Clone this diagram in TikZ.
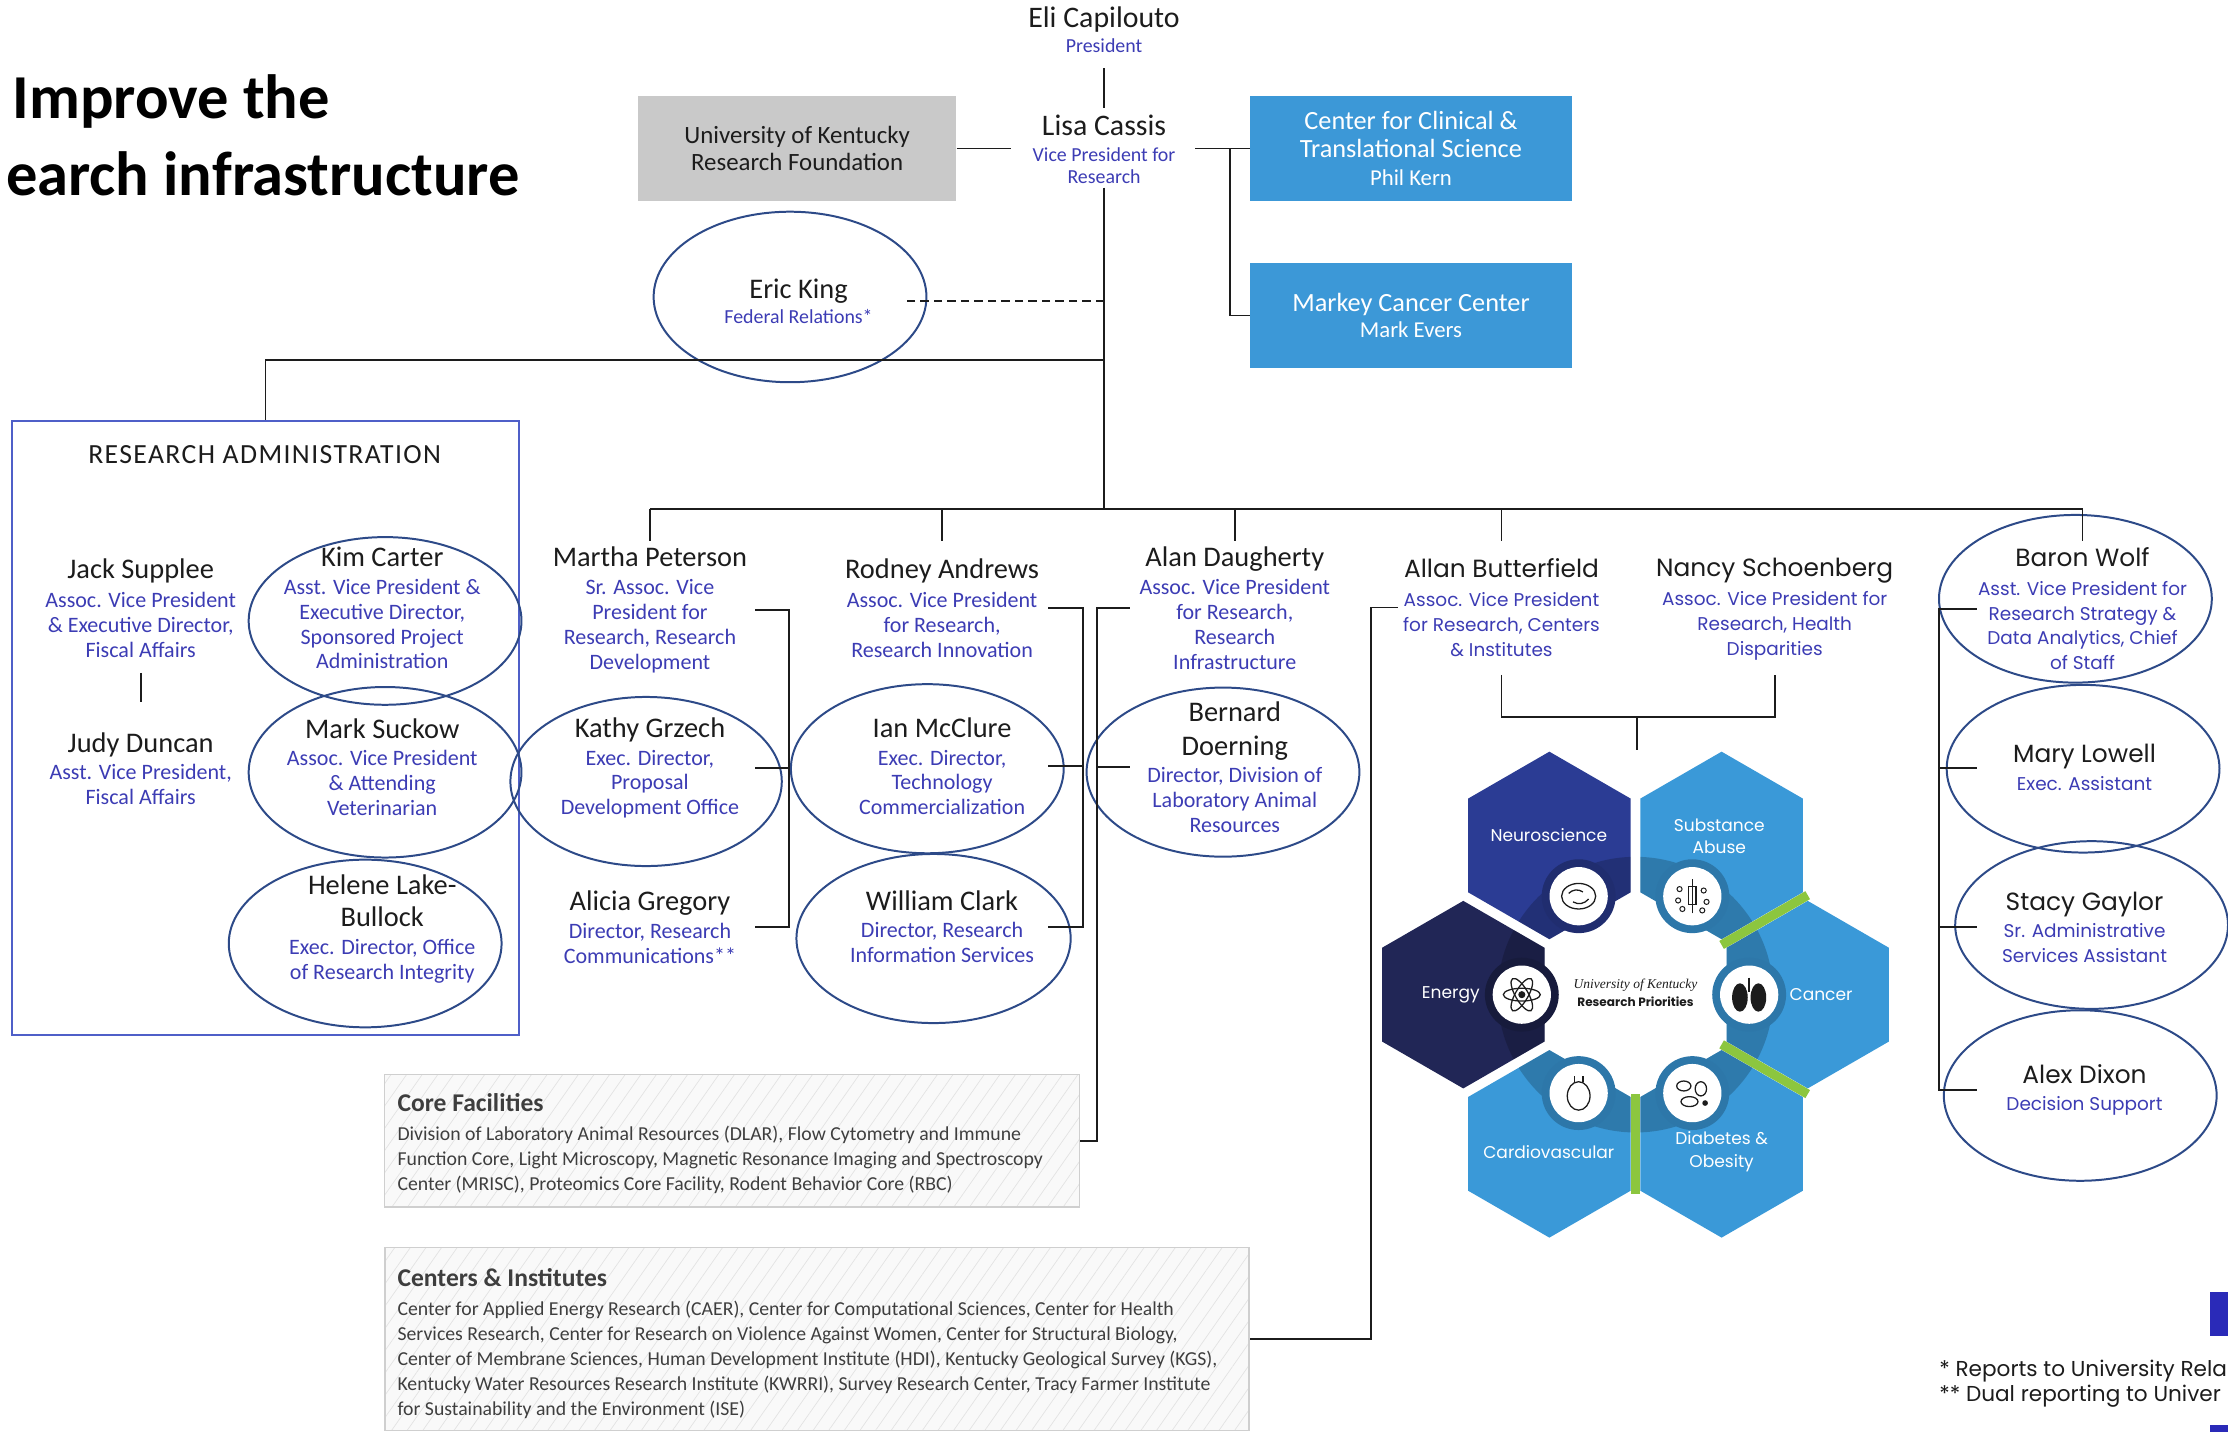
\documentclass[tikz,border=0pt]{standalone}
\usepackage{fontspec}
\setmainfont{Carlito}
\newfontfamily\wide{Poppins}
\newfontfamily\serifit{Liberation Serif}
\usetikzlibrary{shapes.geometric,patterns.meta}

\definecolor{namecol}{HTML}{1C1C1C}
\definecolor{rolecol}{HTML}{3C3CB4}
\definecolor{ringcol}{HTML}{2D4A88}
\definecolor{ukblue}{HTML}{3C98D7}
\definecolor{ukgray}{HTML}{C9C9C9}
\definecolor{raframe}{HTML}{4F5FC8}
\definecolor{hexlight}{HTML}{3A99D8}
\definecolor{hexneuro}{HTML}{2B3C94}
\definecolor{hexenergy}{HTML}{212656}
\definecolor{ukgreen}{HTML}{8CC63F}
\definecolor{boxline}{HTML}{CFCFCF}
\definecolor{footblue}{HTML}{2A2AB8}

\newcommand\nm{\color{namecol}\fontsize{20}{22}\selectfont}
\newcommand\nmw{\color{namecol}\fontsize{17.5}{20}\selectfont}
\newcommand\hexat[2]{(#1,#2) +(30:66) -- +(90:66) -- +(150:66) -- +(210:66) -- +(270:66) -- +(330:66) -- cycle}

\tikzset{
  person/.style={inner sep=0pt, outer sep=0pt, align=center, anchor=north, text=rolecol, font=\fontsize{15.5}{17.5}\selectfont},
  personw/.style={person, font=\wide\fontsize{13}{17.5}\selectfont},
  vp/.style={person, font=\fontsize{14}{15}\selectfont},
  ring/.style={ellipse, draw=ringcol, line width=1.4pt, minimum width=192pt, minimum height=119pt, inner sep=0pt},
  link/.style={line width=1.3pt, draw=namecol},
  unitbox/.style={inner sep=0pt, align=center, minimum width=226pt, minimum height=74pt},
  listbox/.style={draw=boxline, line width=1pt, anchor=north west, inner sep=0pt, preaction={fill=gray!5}, pattern={Lines[angle=55,distance=9pt,line width=.5pt]}, pattern color=gray!22},
  listtext/.style={anchor=north west, inner sep=0pt, align=left, text=namecol!85, font=\fontsize{13.9}{17.6}\selectfont},
  hexlbl/.style={text=white, align=center, inner sep=0pt, font=\wide\fontsize{12}{16}\selectfont},
  icon/.style={draw=namecol, line width=.9pt}
}

\begin{document}
\begin{tikzpicture}[x=1pt,y=-1pt]
\useasboundingbox (0,0) rectangle (1568,1008);

\node[anchor=base west, inner sep=0pt, font=\bfseries\fontsize{44}{48}\selectfont] (title-a) at (8.6,83.7) {Improve the};
\node[anchor=base east, inner sep=0pt, font=\bfseries\fontsize{44}{48}\selectfont] (title-b) at (366,137.7) {earch infrastructure};

% president and vice president
\node[vp] (eli) at (777,4.5) {{\color{namecol}\fontsize{21}{22}\selectfont Eli Capilouto}\\[3pt]President};
\node[vp] (lisa) at (777,81) {{\color{namecol}\fontsize{21}{22}\selectfont Lisa Cassis}\\[3.5pt]Vice President for\\Research};
\node[unitbox, fill=ukgray, text=namecol, font=\fontsize{17.5}{18.8}\selectfont, minimum width=224pt, minimum height=74.5pt] (ukrf) at (561,104.5) {University of Kentucky\\Research Foundation};
\node[unitbox, fill=ukblue, text=white, font=\fontsize{18.5}{19.4}\selectfont, minimum height=74.5pt] (ccts) at (993,104.5) {Center for Clinical \&\\Translational Science\\{\fontsize{16}{19.4}\selectfont Phil Kern}};
\node[unitbox, fill=ukblue, text=white, font=\fontsize{18.5}{18.7}\selectfont] (markey) at (993,222) {Markey Cancer Center\\{\fontsize{16}{18.7}\selectfont Mark Evers}};
\node[vp] (eric) at (562,196) {{\nm Eric King}\\[3pt]Federal Relations*};
\node[ring, minimum height=120pt] (eric-ring) at (556,209) {};

\coordinate (hub) at (777,358);
\coordinate (vpr-r) at (865.5,104.5);
\coordinate (fed-j) at (777,212);
\coordinate (ra-j) at (777,253.5);
\draw[link, shorten <=11pt, shorten >=5pt] (eli) -- (lisa);
\draw[link, shorten <=3pt] (lisa) -- (hub);
\draw[link, shorten >=15pt] (ukrf) -- (ukrf -| lisa.west);
\draw[link, shorten <=14pt] (lisa.east |- ccts) -- (ccts);
\draw[link] (vpr-r) |- (markey.west);
\draw[link, dash pattern=on 6pt off 3.5pt, shorten >=21.5pt] (fed-j) -- (fed-j -| eric.east);

% research administration
\node[draw=raframe, line width=1.2pt, minimum width=356.5pt, minimum height=432pt, anchor=north west, inner sep=0pt] (ra) at (8,295.6) {};
\node[inner sep=0pt, text=namecol, font=\fontsize{19.5}{20}\selectfont\addfontfeature{LetterSpace=5}] (ra-title) at (186.25,320) {RESEARCH ADMINISTRATION};
\draw[link] (ra-j) -| (ra.north);

\node[person] (jack) at (99,393.5) {{\nm Jack Supplee}\\[2.5pt]Assoc. Vice President\\\& Executive Director,\\Fiscal Affairs};
\node[person] (judy) at (99,515.5) {{\nm Judy Duncan}\\[2pt]Asst. Vice President,\\Fiscal Affairs};
\node[person] (kim) at (269,385) {{\nm Kim Carter}\\[2pt]Asst. Vice President \&\\Executive Director,\\Sponsored Project\\Administration};
\node[person] (mark) at (269,505.5) {{\nm Mark Suckow}\\[2pt]Assoc. Vice President\\\& Attending\\Veterinarian};
\node[person] (helene) at (269,615.5) {{\nm Helene Lake-}\\[5pt]{\nm Bullock}\\[2.5pt]Exec. Director, Office\\of Research Integrity};
\node[ring, minimum height=118pt] (kim-ring) at (271,437) {};
\node[ring, minimum height=120pt] (mark-ring) at (271,543.5) {};
\node[ring, minimum height=118pt] (helene-ring) at (257,664) {};
\draw[link, shorten <=11pt, shorten >=21.5pt] (jack) -- (judy);

% associate vice presidents
\node[person] (martha) at (457.4,385) {{\nm Martha Peterson}\\[2pt]Sr. Assoc. Vice\\President for\\Research, Research\\Development};
\node[person] (kathy) at (457.4,505) {{\nm Kathy Grzech}\\[2pt]Exec. Director,\\Proposal\\Development Office};
\node[person] (alicia) at (457.4,627) {{\nm Alicia Gregory}\\[2pt]Director, Research\\Communications**};
\node[person] (rodney) at (663,393.3) {{\nm Rodney Andrews}\\[2.7pt]Assoc. Vice President\\for Research,\\Research Innovation};
\node[person] (ian) at (663,505) {{\nm Ian McClure}\\[2pt]Exec. Director,\\Technology\\Commercialization};
\node[person] (william) at (663,627) {{\nm William Clark}\\[1.5pt]Director, Research\\Information Services};
\node[person] (alan) at (869,385) {{\nm Alan Daugherty}\\[2pt]Assoc. Vice President\\for Research,\\Research\\Infrastructure};
\node[person] (bernard) at (869,494) {{\nm Bernard}\\[6pt]{\nm Doerning}\\[2pt]Director, Division of\\Laboratory Animal\\Resources};
\node[ring, minimum width=191pt] (kathy-ring) at (454.7,550) {};
\node[ring] (ian-ring) at (652.6,541) {};
\node[ring, minimum width=193pt] (william-ring) at (657,660.5) {};
\node[ring] (bernard-ring) at (860.7,543.4) {};

\node[personw] (allan) at (1056.7,393) {{\nmw Allan Butterfield}\\[3pt]Assoc. Vice President\\for Research, Centers\\\& Institutes};
\node[personw] (nancy) at (1249,393) {{\nmw Nancy Schoenberg}\\[3pt]Assoc. Vice President for\\Research, Health\\Disparities};

% staff
\node[personw] (baron) at (1465.6,385.5) {{\nmw Baron Wolf}\\[2.5pt]Asst. Vice President for\\Research Strategy \&\\Data Analytics, Chief\\of Staff};
\node[personw] (mary) at (1467,524) {{\nmw Mary Lowell}\\[2pt]Exec. Assistant};
\node[personw] (stacy) at (1467,627.6) {{\nmw Stacy Gaylor}\\[2pt]Sr. Administrative\\Services Assistant};
\node[personw] (alex) at (1467,749) {{\nmw Alex Dixon}\\[2pt]Decision Support};
\node[ring, minimum height=118pt] (baron-ring) at (1460.6,421.4) {};
\node[ring, minimum height=118pt] (mary-ring) at (1466,541) {};
\node[ring, minimum height=118pt] (stacy-ring) at (1472,651) {};
\node[ring, minimum height=120pt] (alex-ring) at (1464,771) {};

% core facilities and centers
\node[listbox, minimum width=488.9pt, minimum height=93.4pt] (core) at (270.5,755.8) {};
\node[listtext] (core-txt) at (279.6,769.5) {{\bfseries\fontsize{18}{20}\selectfont Core Facilities}\\[2.4pt]Division of Laboratory Animal Resources (DLAR), Flow Cytometry and Immune\\Function Core, Light Microscopy, Magnetic Resonance Imaging and Spectroscopy\\Center (MRISC), Proteomics Core Facility, Rodent Behavior Core (RBC)};
\node[listbox, minimum width=608pt, minimum height=129pt] (centers) at (270.5,877.3) {};
\node[listtext] (centers-txt) at (279.6,892.6) {{\bfseries\fontsize{18}{20}\selectfont Centers \& Institutes}\\[2.4pt]Center for Applied Energy Research (CAER), Center for Computational Sciences, Center for Health\\Services Research, Center for Research on Violence Against Women, Center for Structural Biology,\\Center of Membrane Sciences, Human Development Institute (HDI), Kentucky Geological Survey (KGS),\\Kentucky Water Resources Research Institute (KWRRI), Survey Research Center, Tracy Farmer Institute\\for Sustainability and the Environment (ISE)};

% bus and brackets
\coordinate (tick) at (0,381);
\draw[link] (martha.north |- hub) -- (baron.north |- hub);
\foreach \p in {martha,rodney,alan,allan,baron}
  \draw[link] (\p.north |- hub) -- (\p.north |- tick);

\coordinate (mp-in) at (531.6,0);
\coordinate (mp-sp) at (555,0);
\draw[link] (martha.east -| mp-in) -- (martha.east -| mp-sp) -- (alicia.east -| mp-sp) -- (alicia.east -| mp-in);
\draw[link] (kathy.east -| mp-in) -- (kathy.east -| mp-sp);

\coordinate (rd-in) at (737.6,0);
\coordinate (rd-sp) at (762,0);
\draw[link] (rodney.east -| rd-in) -- (rodney.east -| rd-sp) -- (william.east -| rd-sp) -- (william.east -| rd-in);
\draw[link] (ian.east -| rd-in) -- (ian.east -| rd-sp);

\coordinate (ad-in) at (795,0);
\coordinate (ad-sp) at (772,0);
\draw[link] (alan.west -| ad-in) -- (alan.west -| ad-sp) |- (core.east);
\draw[link] (bernard.west -| ad-in) -- (bernard.west -| ad-sp);

\coordinate (ab-in) at (983.8,0);
\coordinate (ab-sp) at (964.6,0);
\draw[link] (allan.west -| ab-in) -- (allan.west -| ab-sp) |- (centers.east);

\coordinate (bw-in) at (1391,0);
\coordinate (bw-sp) at (1364.6,0);
\draw[link] (baron.west -| bw-in) -- (baron.west -| bw-sp) -- (alex.west -| bw-sp) -- (alex.west -| bw-in);
\foreach \p in {mary,stacy}
  \draw[link] (\p.west -| bw-in) -- (\p.west -| bw-sp);

\coordinate (prio-j) at (1152,504.6);
\coordinate (prio) at (1152,527.5);
\draw[link, shorten <=13pt, shorten >=10pt] (allan.south) |- (prio-j) -| (nancy.south);
\draw[link] (prio-j) -- (prio);

% research priorities
\foreach \x/\y/\c in {1090.4/595/hexneuro,1211.6/595/hexlight,1029.8/700/hexenergy,1272.2/700/hexlight,1090.4/805/hexlight,1211.6/805/hexlight}
  \fill[\c] \hexat{\x}{\y};
\draw[ukgreen, line width=6.5pt] (1211.6,665) -- (1272.2,630);
\draw[ukgreen, line width=6.5pt] (1211.6,735) -- (1272.2,770);
\draw[ukgreen, line width=6.5pt] (1151,770) -- (1151,840);
\begin{scope}
  \clip \hexat{1090.4}{595} \hexat{1211.6}{595} \hexat{1029.8}{700} \hexat{1272.2}{700} \hexat{1090.4}{805} \hexat{1211.6}{805};
  \fill[black, opacity=.2, even odd rule] (1151,700) circle (97) circle (63);
\end{scope}
\path (1151,700) ++(0:80) coordinate (ic-cancer) (1151,700) ++(300:80) coordinate (ic-sub)
  (1151,700) ++(240:80) coordinate (ic-neuro) (1151,700) ++(180:80) coordinate (ic-energy)
  (1151,700) ++(120:80) coordinate (ic-cardio) (1151,700) ++(60:80) coordinate (ic-diab);
\foreach \i/\c in {ic-cancer/hexlight!78!black,ic-sub/hexlight!78!black,ic-neuro/hexneuro!75!black,ic-energy/hexenergy!70!black,ic-cardio/hexlight!78!black,ic-diab/hexlight!78!black} {
  \fill[\c] (\i) circle (26);
  \fill[white] (\i) circle (20.5);
}
\foreach \r in {0,60,120}
  \draw[icon, rotate around={\r:(ic-energy)}] (ic-energy) ellipse [x radius=13, y radius=4.5];
\fill[namecol] (ic-energy) circle (2.5);
\fill[namecol] ([xshift=-6.5pt,yshift=-2pt]ic-cancer) ellipse [x radius=5.5, y radius=10];
\fill[namecol] ([xshift=6.5pt,yshift=-2pt]ic-cancer) ellipse [x radius=5.5, y radius=10];
\draw[icon, line width=1.6pt] ([yshift=12pt]ic-cancer) -- ([yshift=2pt]ic-cancer);
\draw[icon] (ic-neuro) ellipse [x radius=12, y radius=9];
\draw[icon] ([xshift=-7pt,yshift=2pt]ic-neuro) to[bend left=40] ([xshift=3pt,yshift=3pt]ic-neuro);
\draw[icon] ([xshift=-4pt,yshift=-4pt]ic-neuro) to[bend right=40] ([xshift=7pt,yshift=-2pt]ic-neuro);
\draw[icon] ([yshift=-12pt]ic-sub) -- ([yshift=12pt]ic-sub);
\draw[icon] ([xshift=-2.5pt,yshift=-6pt]ic-sub) rectangle ([xshift=2.5pt,yshift=7pt]ic-sub);
\foreach \dx/\dy in {-9/5,-10/-3,-7/-9,8/4,10/-4,7/-10}
  \draw[icon, line width=.7pt] ([xshift=\dx pt,yshift=\dy pt]ic-sub) circle (1.8);
\draw[icon] ([yshift=-2pt]ic-cardio) ellipse [x radius=8, y radius=10];
\draw[icon] ([xshift=-3pt,yshift=8pt]ic-cardio) -- ([xshift=-3pt,yshift=12pt]ic-cardio);
\draw[icon] ([xshift=3pt,yshift=8pt]ic-cardio) -- ([xshift=3pt,yshift=12pt]ic-cardio);
\draw[icon] ([xshift=-6pt,yshift=5pt]ic-diab) ellipse [x radius=5, y radius=3.5];
\draw[icon] ([xshift=6pt,yshift=3pt]ic-diab) ellipse [x radius=4, y radius=5];
\draw[icon] ([xshift=-2pt,yshift=-6pt]ic-diab) ellipse [x radius=6, y radius=3.5];
\fill[namecol] ([xshift=9pt,yshift=-7pt]ic-diab) circle (2);

\node[hexlbl] (lbl-neuro) at (1090,588) {Neuroscience};
\node[hexlbl] (lbl-sub) at (1210,588.5) {Substance\\Abuse};
\node[hexlbl] (lbl-energy) at (1021,700) {Energy};
\node[hexlbl] (lbl-cancer) at (1281.6,700) {Cancer};
\node[hexlbl] (lbl-cardio) at (1090,810.7) {Cardiovascular};
\node[hexlbl] (lbl-diab) at (1211.6,810.5) {Diabetes \&\\Obesity};
\node[inner sep=0pt, align=center, text=namecol, font=\fontsize{9.5}{12.7}\selectfont] (prio-txt) at (1151,698.6) {{\serifit\itshape University of Kentucky}\\{\wide\bfseries\fontsize{8.5}{12.7}\selectfont Research Priorities}};

% footnotes
\fill[footblue] (1555,909) rectangle (1568,940);
\fill[footblue] (1555,1003) rectangle (1568,1008);
\node[anchor=base west, inner sep=0pt, text=namecol, font=\wide\fontsize{15.2}{17}\selectfont] (fn-a) at (1364.6,968.5) {* Reports to University Rela};
\node[anchor=base west, inner sep=0pt, text=namecol, font=\wide\fontsize{15.2}{17}\selectfont] (fn-b) at (1364.6,986) {** Dual reporting to Univer};
\end{tikzpicture}
\end{document}
